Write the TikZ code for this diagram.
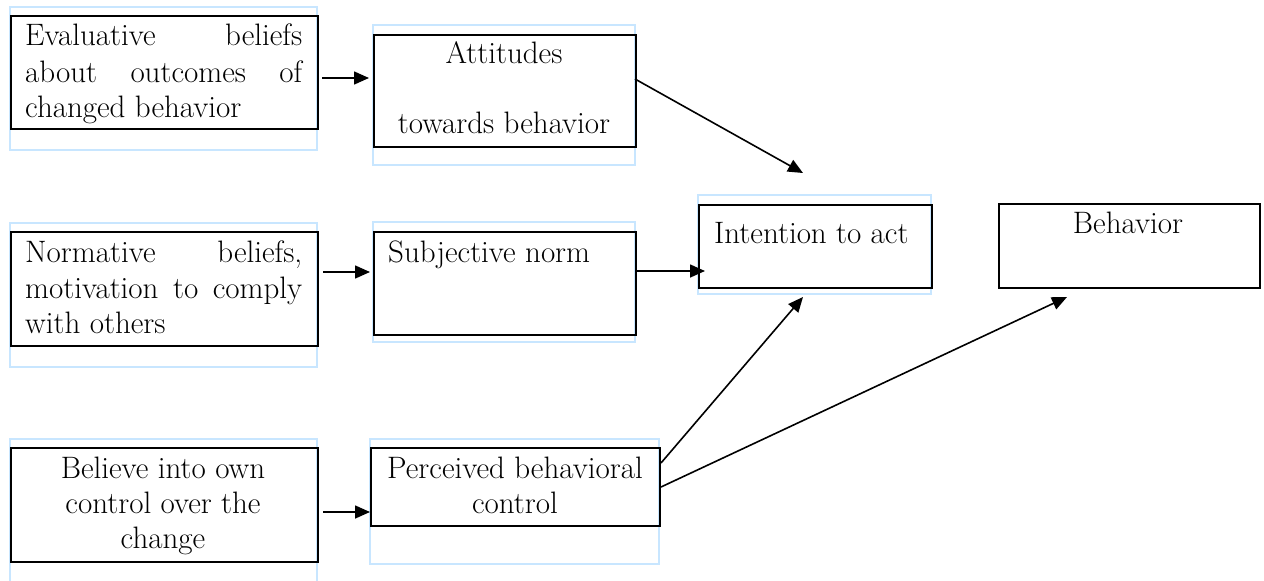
\documentclass[tikz,border=0pt]{standalone}
\usetikzlibrary{arrows.meta,calc}
\definecolor{frameblue}{RGB}{200,230,255}
\tikzset{
  box/.style={draw=black,line width=2pt,inner sep=0pt,anchor=north west,minimum width=#1},
  tframe/.style={draw=frameblue,line width=1.3pt},
  lbl/.style={inner sep=0pt,font=\fontsize{31}{36}\selectfont},
  conn/.style={line width=1.6pt,-{Triangle[length=15pt,width=13pt]}},
}
\begin{document}
\begin{tikzpicture}[x=1pt,y=-1pt]
\useasboundingbox (0,0) rectangle (1264,581);
% light blue text-box frames
\draw[tframe] (10,7) rectangle (317,150);
\draw[tframe] (373,25) rectangle (635,165);
\draw[tframe] (10,223) rectangle (317,367);
\draw[tframe] (373,222) rectangle (635,342);
\draw[tframe] (698,195) rectangle (931,294);
\draw[tframe] (10,590) -- (10,439) -- (317,439) -- (317,590);
\draw[tframe] (370,439) rectangle (659,564);
% boxes
\node[box=307pt,minimum height=113pt] (ev) at (10,15) {};
\node[box=262pt,minimum height=112pt] (att) at (373,34) {};
\node[box=307pt,minimum height=114pt] (nor) at (10,231) {};
\node[box=262pt,minimum height=103pt] (sub) at (373,231) {};
\node[box=233pt,minimum height=83pt] (int) at (698,204) {};
\node[box=261pt,minimum height=84pt] (beh) at (998,203) {};
\node[box=307pt,minimum height=114pt] (bel) at (10,447) {};
\node[box=289pt,minimum height=78pt] (per) at (370,447) {};
% texts
\node[lbl,anchor=base west] (ev1) at (25,45) {\hbox to 277pt{Evaluative\hfill beliefs}};
\node[lbl,anchor=base west] (ev2) at (25,82) {\hbox to 277pt{about\hfill outcomes\hfill of}};
\node[lbl,anchor=base west] (ev3) at (25,117) {changed behavior};
\node[lbl,anchor=base] (at1) at (504,63) {Attitudes};
\node[lbl,anchor=base] (at2) at (504,133) {towards behavior};
\node[lbl,anchor=base west] (no1) at (25,262) {\hbox to 277pt{Normative\hfill beliefs,}};
\node[lbl,anchor=base west] (no2) at (25,298) {\hbox to 277pt{motivation\hfill to\hfill comply}};
\node[lbl,anchor=base west] (no3) at (25,333) {with others};
\node[lbl,anchor=base west] (su1) at (388,262) {Subjective norm};
\node[lbl,anchor=base west] (in1) at (714,243) {Intention to act};
\node[lbl,anchor=base] (be1) at (1128,233) {Behavior};
\node[lbl,anchor=base] (bl1) at (163,478) {Believe into own};
\node[lbl,anchor=base] (bl2) at (163,513) {control over the};
\node[lbl,anchor=base] (bl3) at (163,548) {change};
\node[lbl,anchor=base] (pe1) at (515,478) {Perceived behavioral};
\node[lbl,anchor=base] (pe2) at (515,513) {control};
% connectors
\draw[conn] ($(ev.east)+(3,5.5)$) -- ($(att.west)+(-4,-13)$);
\draw[conn] ($(nor.east)+(4,-17)$) -- ($(sub.west)+(-3,-11.5)$);
\draw[conn] ($(bel.east)+(4,7)$) -- ($(per.west)+(0,25)$);
\draw[conn] ($(att.east)+(-2,-12)$) -- ($(int.north)+(-12.5,-31)$);
\draw[conn] ($(sub.east)+(-2,-12.5)$) -- ($(int.west)+(7,24.5)$);
\draw[conn] ($(per.east)+(0,-24)$) -- ($(int.south)+(-12.5,8)$);
\draw[conn] (per.east) -- ($(beh.south)+(-62.5,8)$);
\end{tikzpicture}
\end{document}
